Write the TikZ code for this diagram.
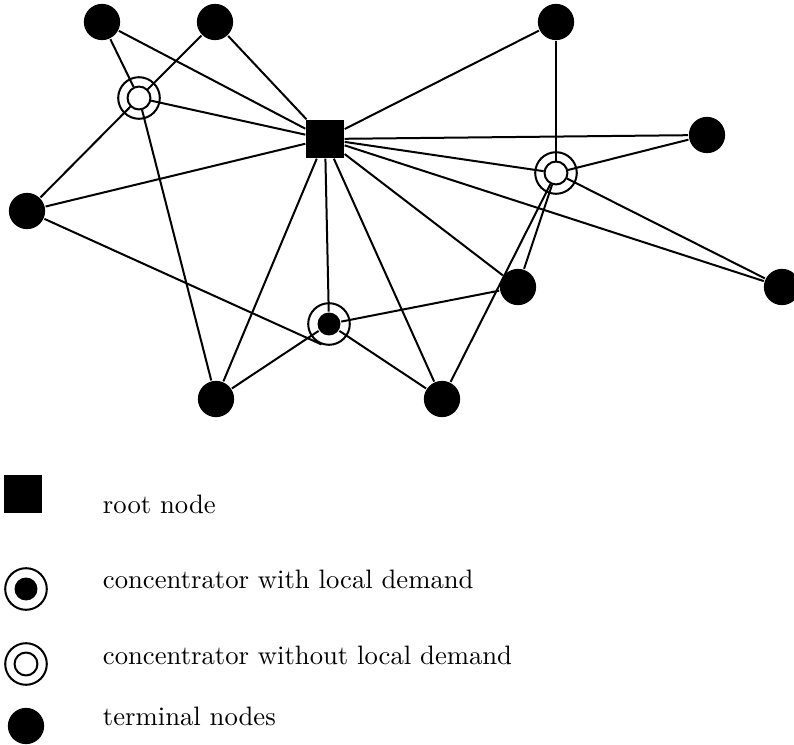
\documentclass[tikz,border=0pt]{standalone}
\usepackage{tikz}
\usetikzlibrary{positioning}
\tikzset{
	terminal/.style={circle,fill=black,inner sep=0pt,minimum size=13.6pt},
	root/.style={rectangle,fill=black,inner sep=0pt,minimum size=14pt},
	ring/.style={circle,draw,inner sep=0pt,minimum size=15.6pt},
	hub/.style={circle,draw,fill=white,inner sep=0pt,minimum size=8.6pt},
	demand/.style={circle,fill=black,inner sep=0pt,minimum size=8.6pt},
	legend/.style={anchor=base west,inner sep=0pt}
}

\begin{document}
\begin{tikzpicture}[x=0.375pt,y=-0.375pt,line width=0.75pt]
		\useasboundingbox (0,0) rectangle (794,745);
		\draw
			node[terminal] (A)  at (102,22)  {}
			node[terminal] (B)  at (215,22)  {}
			node[terminal] (C)  at (556,22)  {}
			node[terminal] (D)  at (707,135) {}
			node[terminal] (E)  at (27,211)  {}
			node[terminal] (F)  at (518,287) {}
			node[terminal] (G)  at (782,287) {}
			node[terminal] (H)  at (216,399) {}
			node[terminal] (I)  at (442,399) {}
			node[root]     (r)  at (325,139) {}
			node[hub]      (c1) at (139,98)  {}
			node[ring]     (c1r) at (c1)     {}
			node[hub]      (c2) at (556,173) {}
			node[ring]     (c2r) at (c2)     {}
			node[demand]   (c3) at (329,324) {}
			node[ring]     (c3r) at (c3)     {}

			(A)  edge (c1)
			(A)  edge (r)
			(B)  edge (c1)
			(B)  edge (r)
			(c1) edge (r)
			(c1) edge (E)
			(c1) edge (H)
			(E)  edge (r)
			(E)  edge (c3r.250)
			(r)  edge (C)
			(r)  edge (D)
			(r)  edge (c2)
			(r)  edge (G)
			(r)  edge (F)
			(r)  edge (I)
			(r)  edge (H)
			(r)  edge (c3)
			(C)  edge (c2)
			(c2) edge (D)
			(c2) edge (G)
			(c2) edge (F)
			(c2) edge (I)
			(c3) edge (H)
			(c3) edge (I)
			(c3) edge (F)
		;
		\draw
			node[root]     (lroot) at (23,494)  {}
			node[demand]   (ldem)  at (26,589)  {}
			node[ring]     (ldemr) at (ldem)    {}
			node[hub]      (lhub)  at (26,664)  {}
			node[ring]     (lhubr) at (lhub)    {}
			node[terminal] (lterm) at (26,726)  {}

			node[legend] (troot) at (102,513) {root node}
			node[legend] (tdem)  at (102,588) {concentrator with local demand}
			node[legend] (thub)  at (102,664) {concentrator without local demand}
			node[legend] (tterm) at (102,725) {terminal nodes}
		;
	\end{tikzpicture}
\end{document}
